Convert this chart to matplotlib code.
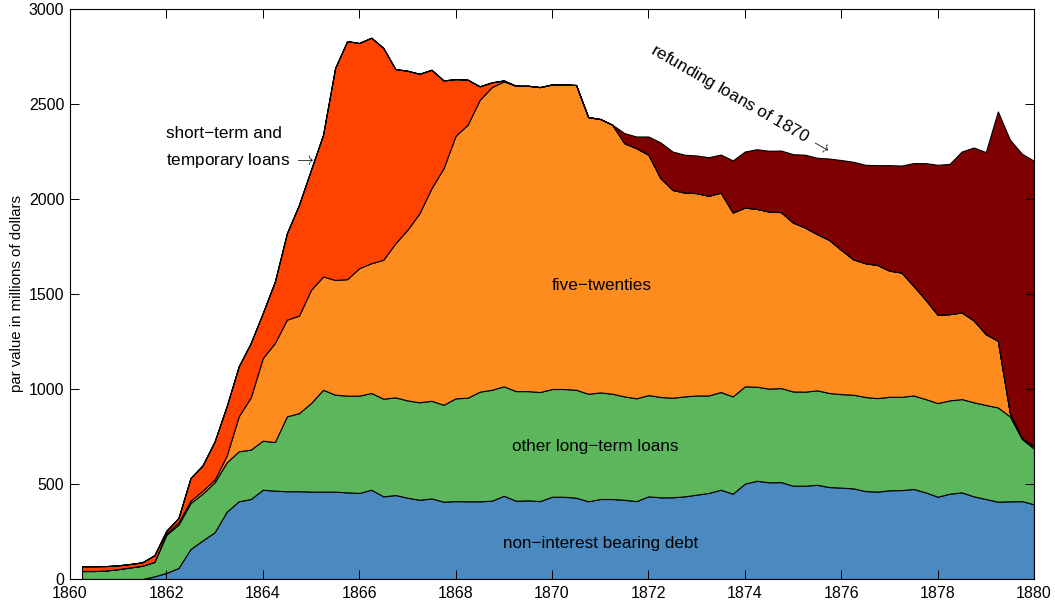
import matplotlib
matplotlib.use("Agg")
import matplotlib.pyplot as plt

plt.rcParams['font.family'] = ['Liberation Sans', 'DejaVu Sans']
plt.rcParams['mathtext.fontset'] = 'cm'

# quarterly dates
years = [1860.25, 1860.5, 1860.75, 1861.0, 1861.25, 1861.5, 1861.75, 1862.0,
         1862.25, 1862.5, 1862.75, 1863.0, 1863.25, 1863.5, 1863.75, 1864.0,
         1864.25, 1864.5, 1864.75, 1865.0, 1865.25, 1865.5, 1865.75, 1866.0,
         1866.25, 1866.5, 1866.75, 1867.0, 1867.25, 1867.5, 1867.75, 1868.0,
         1868.25, 1868.5, 1868.75, 1869.0, 1869.25, 1869.5, 1869.75, 1870.0,
         1870.25, 1870.5, 1870.75, 1871.0, 1871.25, 1871.5, 1871.75, 1872.0,
         1872.25, 1872.5, 1872.75, 1873.0, 1873.25, 1873.5, 1873.75, 1874.0,
         1874.25, 1874.5, 1874.75, 1875.0, 1875.25, 1875.5, 1875.75, 1876.0,
         1876.25, 1876.5, 1876.75, 1877.0, 1877.25, 1877.5, 1877.75, 1878.0,
         1878.25, 1878.5, 1878.75, 1879.0, 1879.25, 1879.5, 1879.75, 1880.0]

non_interest = [0, 0, 0, 0, 0, 0, 14, 32, 58, 158, 203, 246, 354, 409, 421, 470,
                465, 462, 462, 460, 460, 460, 456, 453, 470, 435, 442, 428, 417, 424, 407, 410,
                409, 409, 412, 438, 412, 414, 410, 433, 433, 428, 409, 421, 421, 417, 410, 435,
                430, 430, 435, 444, 453, 470, 449, 502, 517, 509, 510, 491, 491, 496, 484, 481,
                477, 463, 460, 467, 468, 474, 456, 433, 449, 456, 435, 421, 407, 409, 410, 393]

other_long = [42, 42, 45, 52, 61, 70, 76, 201, 228, 242, 246, 263, 260, 263, 260, 258,
              256, 394, 411, 466, 536, 510, 509, 512, 509, 514, 514, 512, 513, 514, 510, 541,
              545, 577, 584, 576, 577, 575, 574, 567, 567, 568, 566, 561, 554, 544, 541, 533,
              528, 524, 526, 522, 513, 514, 512, 512, 495, 493, 495, 496, 495, 497, 495, 492,
              493, 495, 492, 492, 491, 492, 491, 493, 491, 491, 495, 495, 496, 447, 327, 293]

five_twenties = [0, 0, 0, 0, 0, 0, 0, 7, 12, 12, 16, 14, 35, 184, 275, 435,
                 521, 509, 513, 596, 596, 604, 613, 671, 683, 731, 811, 898, 995, 1119, 1245, 1382,
                 1437, 1536, 1593, 1605, 1607, 1607, 1605, 1603, 1603, 1604, 1456, 1439, 1416, 1333, 1317, 1265,
                 1152, 1094, 1073, 1065, 1051, 1050, 968, 941, 936, 932, 926, 889, 864, 822, 806, 759,
                 713, 704, 701, 664, 654, 577, 523, 465, 454, 456, 431, 373, 351, 17, 5, 12]

short_term = [25, 25, 23, 20, 18, 18, 35, 14, 23, 119, 133, 201, 260, 263, 286, 237,
              323, 455, 583, 632, 746, 1115, 1253, 1185, 1187, 1115, 917, 837, 734, 623, 462, 298,
              237, 71, 25, 5, 0, 0, 0, 0, 0, 0, 0, 0, 0, 0, 0, 0,
              0, 0, 0, 0, 0, 0, 0, 0, 0, 0, 0, 0, 0, 0, 0, 0,
              0, 0, 0, 0, 0, 0, 0, 0, 0, 0, 0, 0, 0, 0, 0, 0]

refunding = [0, 0, 0, 0, 0, 0, 0, 0, 0, 0, 0, 0, 0, 0, 0, 0,
             0, 0, 0, 0, 0, 0, 0, 0, 0, 0, 0, 0, 0, 0, 0, 0,
             0, 0, 0, 0, 0, 0, 0, 0, 0, 0, 0, 0, 0, 53, 61, 96,
             188, 202, 199, 198, 203, 200, 274, 295, 314, 320, 324, 360, 383, 402, 428, 473,
             513, 518, 525, 555, 563, 646, 719, 789, 791, 847, 910, 958, 1207, 1439, 1496, 1503]

colors = ['#4A8AC0', '#5CB75C', '#FD8B1E', '#FF4200', '#7F0000']
xticks = [1860, 1862, 1864, 1866, 1868, 1870, 1872, 1874, 1876, 1878, 1880]
yticks = [0, 500, 1000, 1500, 2000, 2500, 3000]

fig = plt.figure(figsize=(10.55, 6.03), dpi=100)
ax = fig.add_axes([70/1055, 1 - 579/603, (1034 - 70)/1055, (579 - 9)/603])

ax.stackplot(years, non_interest, other_long, five_twenties, short_term, refunding,
             colors=colors, edgecolor='black', linewidth=0.8)

ax.set_xlim(1860, 1880)
ax.set_ylim(0, 3000)
ax.set_xticks(xticks)
ax.set_yticks(yticks)
ax.tick_params(direction='in', top=True, right=True, length=6.5, width=0.7,
               labelsize=11.5)
ax.tick_params(axis='x', pad=5)
ax.tick_params(axis='y', pad=4)
for s in ax.spines.values():
    s.set_linewidth(0.8)

fig.text(17/1055, 1 - 294/603, 'par value in millions of dollars', rotation=90,
         ha='center', va='center', fontsize=10.8)

fs = 12.3
arrow = r' $\rightarrow$'
ax.text(1862.0, 2347, 'short\u2212term and', ha='left', va='center', fontsize=fs)
ax.text(1862.0, 2205, 'temporary loans' + arrow, ha='left', va='center', fontsize=fs)
ax.text(1871.04, 1547, 'five\u2212twenties', ha='center', va='center', fontsize=fs)
ax.text(1870.9, 695, 'other long\u2212term loans', ha='center', va='center', fontsize=fs)
ax.text(1871.0, 189, 'non\u2212interest bearing debt', ha='center', va='center', fontsize=fs)
ax.text(1873.9, 2521, 'refunding loans of 1870' + arrow, ha='center', va='center',
        fontsize=fs, rotation=-30, rotation_mode='anchor')

fig.savefig('out.png', dpi=100)
